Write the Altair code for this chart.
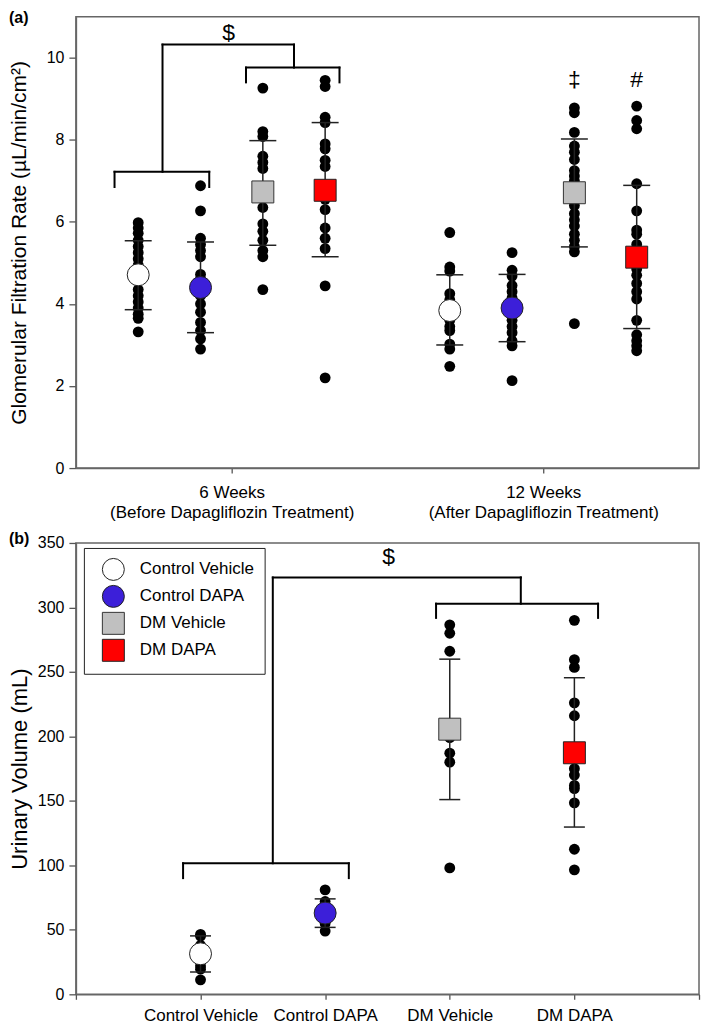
import altair as alt
import pandas as pd

FONT = "Liberation Sans"

# ---------------- categories / labels ----------------
groups = ["Control Vehicle", "Control DAPA", "DM Vehicle", "DM DAPA"]
group_fill = ["#ffffff", "#3c1fd9", "#c0c0c0", "#ff0000"]
group_outline = ["#222222", "#222222", "#333333", "#222222"]
group_shape = ["circle", "circle", "square", "square"]
group_marker_size = [484, 484, 390, 390]

week_labels = [["6 Weeks", "(Before Dapagliflozin Treatment)"],
               ["12 Weeks", "(After Dapagliflozin Treatment)"]]

# ---------------- panel (a): GFR individual values ----------------
gfr_6wk_control_vehicle = [5.98, 5.85, 5.72, 5.55, 5.4, 5.25, 5.1, 4.95, 4.35, 4.2, 4.05, 3.9, 3.75, 3.65, 3.32]
gfr_6wk_control_dapa = [6.88, 6.27, 5.6, 5.45, 5.3, 5.15, 4.72, 4.6, 4.2, 4.0, 3.8, 3.55, 3.35, 3.15, 2.9]
gfr_6wk_dm_vehicle = [9.26, 8.2, 8.08, 7.6, 7.45, 7.3, 6.6, 6.35, 5.95, 5.77, 5.55, 5.3, 5.15, 4.35]
gfr_6wk_dm_dapa = [9.45, 9.3, 8.55, 8.42, 7.9, 7.78, 7.5, 7.35, 6.55, 6.3, 5.85, 5.6, 5.35, 4.44, 2.2]

gfr_12wk_control_vehicle = [5.74, 4.9, 4.8, 4.25, 4.1, 3.75, 3.6, 3.45, 3.35, 3.02, 2.9, 2.48]
gfr_12wk_control_dapa = [5.25, 4.82, 4.68, 4.45, 4.3, 4.15, 3.75, 3.6, 3.45, 3.3, 3.1, 2.98, 2.13]
gfr_12wk_dm_vehicle = [8.78, 8.66, 8.18, 7.85, 7.7, 7.52, 7.25, 7.12, 7.0, 6.85, 6.55, 6.4, 6.2,
                       6.05, 5.9, 5.7, 5.55, 5.4, 5.27, 3.52]
gfr_12wk_dm_dapa = [8.82, 8.47, 8.27, 6.93, 6.27, 5.8, 5.7, 5.45, 4.85, 4.7, 4.5, 4.3, 4.12,
                    3.6, 3.25, 3.1, 2.98, 2.86]

gfr_mean_6wk = [4.71, 4.40, 6.73, 6.77]
gfr_sd_hi_6wk = [5.54, 5.51, 7.98, 8.42]
gfr_sd_lo_6wk = [3.86, 3.30, 5.43, 5.15]
gfr_mean_12wk = [3.84, 3.90, 6.71, 5.14]
gfr_sd_hi_12wk = [4.71, 4.72, 8.02, 6.89]
gfr_sd_lo_12wk = [3.00, 3.08, 5.39, 3.40]

# bracket segments (x1, y1, x2, y2) in data units
gfr_brackets = [
    (0.62, 7.22, 2.14, 7.22), (0.62, 6.85, 0.62, 7.22), (2.14, 6.85, 2.14, 7.22), (1.39, 7.22, 1.39, 10.32),
    (2.73, 9.76, 4.23, 9.76), (2.73, 9.40, 2.73, 9.76), (4.23, 9.40, 4.23, 9.76), (3.50, 9.76, 3.50, 10.32),
    (1.39, 10.32, 3.50, 10.32),
]
gfr_symbols = [("$", 2.45, 10.6), ("\u2021", 8.0, 9.46), ("#", 9.0, 9.46)]

# ---------------- panel (b): urinary volume ----------------
uv_control_vehicle = [46.5, 45, 38, 30, 22, 19.5, 11.2]
uv_control_dapa = [81, 72, 66, 62, 58, 55, 49]
uv_dm_vehicle = [286.5, 280, 266, 205, 199, 187, 180, 98]
uv_dm_dapa = [290, 259.5, 253.5, 226, 216, 175, 170, 162, 159.5, 148.5, 112.5, 96.5]

uv_mean = [31.4, 63.0, 205.6, 187.3]
uv_sd_hi = [45.3, 74.0, 259.9, 245.5]
uv_sd_lo = [17.3, 51.9, 151.0, 129.7]

uv_brackets = [
    (0.86, 101.6, 2.19, 101.6), (0.86, 90.1, 0.86, 101.6), (2.19, 90.1, 2.19, 101.6), (1.58, 101.6, 1.58, 323.3),
    (2.89, 302.9, 4.19, 302.9), (2.89, 291.9, 2.89, 302.9), (4.19, 291.9, 4.19, 302.9), (3.57, 302.9, 3.57, 323.3),
    (1.58, 323.3, 3.57, 323.3),
]
uv_symbols = [("$", 2.51, 339.0)]

# ---------------- tables ----------------
def build_tables(value_sets, means, his, los, slots):
    pts, summ, caps = [], [], []
    for g, (vals, m, hi, lo, s) in enumerate(zip(value_sets, means, his, los, slots)):
        for v in vals:
            pts.append({"slot": s, "value": v, "group": groups[g]})
        summ.append({"slot": s, "group": groups[g], "mean": m, "hi": hi, "lo": lo})
        caps.append({"slot": s, "cap": hi})
        caps.append({"slot": s, "cap": lo})
    return pts, summ, caps

p1, s1, c1 = build_tables(
    [gfr_6wk_control_vehicle, gfr_6wk_control_dapa, gfr_6wk_dm_vehicle, gfr_6wk_dm_dapa],
    gfr_mean_6wk, gfr_sd_hi_6wk, gfr_sd_lo_6wk, [1, 2, 3, 4])
p2, s2, c2 = build_tables(
    [gfr_12wk_control_vehicle, gfr_12wk_control_dapa, gfr_12wk_dm_vehicle, gfr_12wk_dm_dapa],
    gfr_mean_12wk, gfr_sd_hi_12wk, gfr_sd_lo_12wk, [6, 7, 8, 9])
gfr_pts = pd.DataFrame(p1 + p2)
gfr_sum = pd.DataFrame(s1 + s2)
gfr_caps = pd.DataFrame(c1 + c2)

p3, s3, c3 = build_tables([uv_control_vehicle, uv_control_dapa, uv_dm_vehicle, uv_dm_dapa],
                          uv_mean, uv_sd_hi, uv_sd_lo, [1, 2, 3, 4])
uv_pts = pd.DataFrame(p3)
uv_sum = pd.DataFrame(s3)
uv_caps = pd.DataFrame(c3)

def seg_df(segs):
    return pd.DataFrame([{"x1": a, "y1": b, "x2": c, "y2": d} for a, b, c, d in segs])

def sym_df(syms):
    return pd.DataFrame([{"label": t, "x": x, "y": y} for t, x, y in syms])

PANEL_W = 624
PANEL_H = 452

# ---------------- panel builder ----------------
def make_panel(pts, summ, caps, brackets, syms, xdom, ydom, xaxis, yaxis, ytitle,
               cap_size, legend, title, title_offset):
    xs = alt.Scale(domain=xdom, nice=False, zero=False)
    ys = alt.Scale(domain=ydom, nice=False)

    def X(field):
        return alt.X(field, type="quantitative", scale=xs, axis=xaxis, title=None)

    def Y(field):
        return alt.Y(field, type="quantitative", scale=ys, axis=yaxis, title=ytitle)

    dots = alt.Chart(pts).mark_circle(size=118, color="black", opacity=1).encode(
        x=X("slot"), y=Y("value"))
    err = alt.Chart(summ).mark_rule(color="#222", strokeWidth=1.5).encode(
        x=X("slot"), y=Y("lo"), y2="hi")
    cap = alt.Chart(caps).mark_tick(orient="horizontal", size=cap_size, thickness=1.5,
                                    color="#222", opacity=1).encode(
        x=X("slot"), y=Y("cap"))
    means = alt.Chart(summ).mark_point(filled=True, strokeWidth=1, opacity=1).encode(
        x=X("slot"), y=Y("mean"),
        fill=alt.Fill("group:N", scale=alt.Scale(domain=groups, range=group_fill), legend=legend),
        stroke=alt.Stroke("group:N", scale=alt.Scale(domain=groups, range=group_outline), legend=legend),
        shape=alt.Shape("group:N", scale=alt.Scale(domain=groups, range=group_shape), legend=legend),
        size=alt.Size("group:N", scale=alt.Scale(domain=groups, range=group_marker_size), legend=legend),
    )
    br = alt.Chart(seg_df(brackets)).mark_rule(color="black", strokeWidth=2, strokeCap="square").encode(
        x=X("x1"), x2="x2", y=Y("y1"), y2="y2")
    tx = alt.Chart(sym_df(syms)).mark_text(fontSize=23, font=FONT, color="black",
                                           align="center", baseline="middle").encode(
        x=X("x"), y=Y("y"), text="label:N")
    return alt.layer(dots, err, cap, means, br, tx).properties(
        width=PANEL_W, height=PANEL_H,
        title=alt.TitleParams(title, anchor="start", frame="bounds", fontSize=16,
                              fontWeight="bold", font=FONT, baseline="top",
                              offset=title_offset, color="black"),
    )

# axes
def label_expr_weeks():
    a = "['" + "','".join(week_labels[0]) + "']"
    b = "['" + "','".join(week_labels[1]) + "']"
    return f"datum.value < 5 ? {a} : {b}"

xaxis_a = alt.Axis(values=[2.5, 7.5], labelExpr=label_expr_weeks(), tickSize=5, labelPadding=11,
                   labelFontSize=17, labelLineHeight=21, labelAngle=0, labelAlign="center",
                   labelBaseline="top", labelFlush=False, labelLimit=0, grid=False)
yaxis_a = alt.Axis(values=[0, 2, 4, 6, 8, 10], tickSize=7, labelPadding=5, labelFontSize=16,
                   titleFontSize=21, titleFontWeight="normal", titlePadding=14,
                   minExtent=32, maxExtent=32, grid=False)

xaxis_b = alt.Axis(values=[0, 1, 2, 3, 4, 5],
                   labelExpr="['','" + "','".join(groups) + "',''][datum.value]",
                   tickSize=5, labelPadding=8, labelFontSize=17, labelAngle=0,
                   labelAlign="center", labelBaseline="top", labelFlush=False, labelLimit=0,
                   grid=False)
yaxis_b = alt.Axis(values=list(range(0, 351, 50)), tickSize=7, labelPadding=5, labelFontSize=16,
                   titleFontSize=22, titleFontWeight="normal", titlePadding=10,
                   minExtent=34, maxExtent=34, grid=False)

legend_b = alt.Legend(orient="none", legendX=8, legendY=5, direction="vertical", title=None,
                      strokeColor="#222", fillColor="white", padding=10, labelFontSize=17,
                      labelFont=FONT, labelColor="black",
                      symbolStrokeWidth=1, rowPadding=0,
                      labelOffset=15, symbolOffset=8)

panel_a = make_panel(gfr_pts, gfr_sum, gfr_caps, gfr_brackets, gfr_symbols, [0, 10], [0, 11],
                     xaxis_a, yaxis_a, "Glomerular Filtration Rate (\u00b5L/min/cm\u00b2)",
                     27, None, "(a)", -9)
panel_b = make_panel(uv_pts, uv_sum, uv_caps, uv_brackets, uv_symbols, [0, 5], [0, 350],
                     xaxis_b, yaxis_b, "Urinary Volume (mL)",
                     21, legend_b, "(b)", -12)

chart = alt.vconcat(panel_a, panel_b, spacing=8).resolve_scale(
    fill="independent", stroke="independent", shape="independent", size="independent"
).resolve_legend(
    fill="independent", stroke="independent", shape="independent", size="independent"
).properties(
    padding=0
).configure(font=FONT).configure_view(
    stroke="#666", strokeWidth=1.5
).configure_axis(
    domainColor="#666", domainWidth=1.5, tickColor="#555", tickWidth=1.3,
    labelColor="black", titleColor="black", labelFont=FONT, titleFont=FONT
)

chart.save("out.html", embed_options={"renderer": "svg", "actions": False})
